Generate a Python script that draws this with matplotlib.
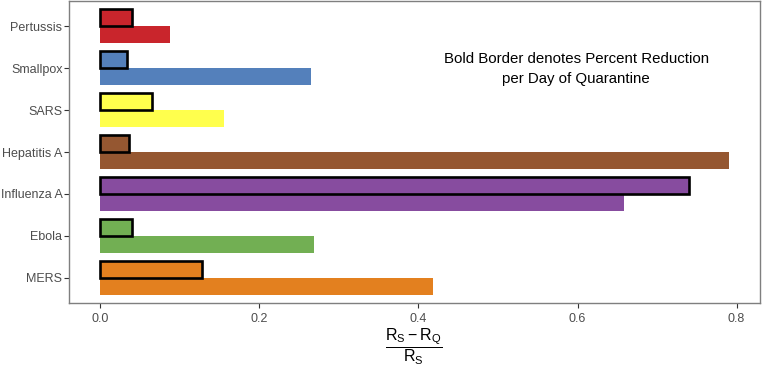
import matplotlib
matplotlib.use("Agg")
import matplotlib.pyplot as plt
import numpy as np

plt.rcParams['font.family'] = ['Liberation Sans', 'DejaVu Sans']
plt.rcParams['mathtext.fontset'] = 'custom'
plt.rcParams['mathtext.rm'] = 'Liberation Sans'
plt.rcParams['mathtext.it'] = 'Liberation Sans'

# data (top to bottom as shown)
diseases = ["Pertussis", "Smallpox", "SARS", "Hepatitis A", "Influenza A", "Ebola", "MERS"]
per_day = [0.040, 0.033, 0.065, 0.036, 0.740, 0.040, 0.128]   # bold border
total = [0.088, 0.265, 0.155, 0.790, 0.658, 0.269, 0.418]
colors = ["#C9252C", "#5480BB", "#FFFF4D", "#955731", "#874C9F", "#72AF53", "#E3801F"]

fig = plt.figure(figsize=(7.62, 3.68), dpi=100)
ax = fig.add_axes([69/762, 1 - 303/368, (760-69)/762, (303-1)/368])

pos = np.arange(len(diseases))[::-1]
ax.barh(pos - 0.2, total, height=0.4, color=colors, edgecolor='none')
ax.barh(pos + 0.2, per_day, height=0.4, color=colors, edgecolor='black', linewidth=1.9)

ax.set_yticks(pos)
ax.set_yticklabels(diseases)
ax.set_xticks([0.0, 0.2, 0.4, 0.6, 0.8])
ax.set_xticklabels(["0.0", "0.2", "0.4", "0.6", "0.8"])
ax.set_xlim(-0.0395, 0.8295)
ax.set_ylim(-0.6, 6.6)

for s in ax.spines.values():
    s.set_color('#7f7f7f')
    s.set_linewidth(1.0)
ax.tick_params(colors='#333333', labelcolor='#4D4D4D', labelsize=9, length=3.5, width=0.8)
ax.tick_params(axis='y', pad=1.2)

ax.text(0.734, 0.775, "Bold Border denotes Percent Reduction\nper Day of Quarantine",
        transform=ax.transAxes, ha='center', va='center', fontsize=10.8,
        linespacing=1.6)

fig.text(414/762, 1 - 347/368, r'$\dfrac{\mathrm{R_S - R_Q}}{\mathrm{R_S}}$',
         ha='center', va='center', fontsize=11.5)

fig.savefig("out.png", dpi=100)
